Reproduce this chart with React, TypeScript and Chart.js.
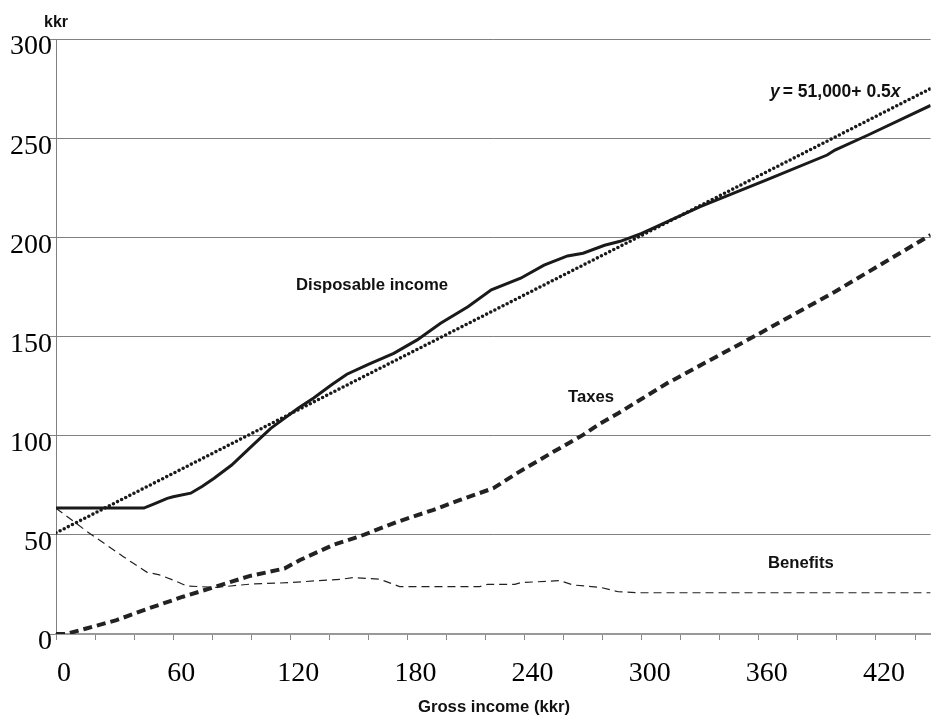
import React, { useEffect, useRef } from 'react';
import { Chart, registerables } from 'chart.js';

Chart.register(...registerables);

// Gross income (kkr) tick positions and labelled ticks
const xTickValues = [0, 20, 40, 60, 80, 100, 120, 140, 160, 180, 200, 220, 240, 260, 280, 300, 320, 340, 360, 380, 400, 420, 440];
const xLabelValues = [0, 60, 120, 180, 240, 300, 360, 420];
const yTickValues = [0, 50, 100, 150, 200, 250, 300];

// Disposable income
const dispX = [0, 45, 50, 57, 60, 69, 75, 81, 90, 100, 110, 124, 132, 141, 149, 160, 173, 185, 197, 211, 223, 238, 250, 262, 270, 281, 289, 300, 330, 364, 395, 399, 416, 448];
const dispY = [63.5, 63.5, 65.5, 68.4, 69.2, 71, 74.5, 78.5, 85.2, 94.5, 103.7, 113.8, 119, 125.5, 131, 136, 141.5, 148.3, 156.7, 165, 173.5, 179.4, 186, 190.6, 192, 196, 198, 202, 215.5, 229, 241.5, 244, 251.6, 266.5];

// Reference line y = 51,000 + 0.5x (end points)
const refX = [0, 448];
const refY = [51, 275];

// Taxes
const taxX = [0, 5, 16, 31, 46, 65, 79, 99, 117, 125, 142, 156, 175, 193, 207, 224, 236, 255, 270, 279, 288, 313, 359, 399, 448];
const taxY = [0, 0, 2.9, 7, 12.4, 18.8, 23, 29.2, 33, 37.3, 44.9, 49.4, 56.6, 62.5, 67.6, 73.5, 81, 92, 100.4, 106.3, 111.3, 126.4, 150.8, 172.6, 201.2];

// Benefits
const benX = [0, 16, 34.5, 39, 46.5, 53, 60, 67, 82, 100, 120, 134, 146, 152, 166, 176, 217, 221, 235, 238, 258, 265, 279, 288, 299, 448];
const benY = [63.4, 51.6, 39, 36, 31.2, 29.8, 27.2, 24.2, 23.5, 25.2, 25.9, 26.9, 27.6, 28.4, 27.6, 23.9, 23.9, 25, 25, 25.9, 26.9, 24.7, 23.5, 21.3, 20.8, 20.8];

const toPoints = (xs: number[], ys: number[]) => xs.map((x, i) => ({ x, y: ys[i] }));

const SANS = '"Liberation Sans", Arial, Helvetica, sans-serif';
const SERIF = '"Liberation Serif", "Times New Roman", serif';

export default function App() {
  const ref = useRef<HTMLCanvasElement>(null);

  useEffect(() => {
    const prev = document.body.style.margin;
    document.body.style.margin = '0';
    const canvas = ref.current!;

    const textPlugin = {
      id: 'textLabels',
      afterDatasetsDraw(chart: any) {
        const c = chart.ctx as CanvasRenderingContext2D;
        c.save();
        c.fillStyle = '#111';
        c.textBaseline = 'alphabetic';
        c.font = `bold 16px ${SANS}`;
        c.textAlign = 'center';
        c.fillText('kkr', 56, 27);
        c.font = `bold 16.7px ${SANS}`;
        c.fillText('Gross income (kkr)', 494, 712);
        c.textAlign = 'left';
        c.fillText('Disposable income', 296, 290);
        c.fillText('Taxes', 568, 402);
        c.fillText('Benefits', 768, 568);
        // formula
        let x = 770;
        const base = 97;
        c.font = `italic bold 17.5px ${SANS}`;
        c.fillText('y', x, base);
        x += c.measureText('y').width + 3;
        c.font = `bold 17.5px ${SANS}`;
        const mid = '= 51,000+ 0.5';
        c.fillText(mid, x, base);
        x += c.measureText(mid).width;
        c.font = `italic bold 17.5px ${SANS}`;
        c.fillText('x', x, base);
        c.restore();
      },
    };

    const chart = new Chart(canvas, {
      type: 'line',
      data: {
        datasets: [
          {
            label: 'Benefits',
            data: toPoints(benX, benY),
            borderColor: '#222',
            borderWidth: 1.2,
            borderDash: [8, 5],
            pointRadius: 0,
            tension: 0,
            fill: false,
          },
          {
            label: 'Taxes',
            data: toPoints(taxX, taxY),
            borderColor: '#222',
            borderWidth: 4,
            borderDash: [9, 5],
            pointRadius: 0,
            tension: 0,
            fill: false,
          },
          {
            label: 'y = 51,000 + 0.5x',
            data: toPoints(refX, refY),
            borderColor: '#1a1a1a',
            borderWidth: 3.6,
            borderDash: [0, 4.6],
            borderCapStyle: 'round',
            pointRadius: 0,
            tension: 0,
            fill: false,
          },
          {
            label: 'Disposable income',
            data: toPoints(dispX, dispY),
            borderColor: '#1a1a1a',
            borderWidth: 3,
            pointRadius: 0,
            tension: 0,
            fill: false,
          },
        ],
      },
      options: {
        animation: false,
        responsive: true,
        maintainAspectRatio: false,
        layout: { padding: { top: 39, left: 0, right: 0, bottom: 0 } },
        plugins: {
          legend: { display: false },
          tooltip: { enabled: false },
          title: { display: false },
        },
        scales: {
          x: {
            type: 'linear',
            min: 0,
            max: 448,
            afterBuildTicks: (s: any) => {
              s.ticks = xTickValues.map((v) => ({ value: v }));
            },
            afterFit: (s: any) => {
              s.height = 82;
            },
            ticks: {
              autoSkip: false,
              maxRotation: 0,
              minRotation: 0,
              color: '#000',
              padding: 17,
              labelOffset: 8,
              font: { family: SERIF, size: 28 },
              callback: (v: any) => (xLabelValues.includes(Number(v)) ? String(v) : ''),
            },
            grid: {
              drawOnChartArea: false,
              drawTicks: true,
              tickLength: 6,
              color: '#888',
              lineWidth: 1,
            },
            border: { display: true, color: '#999', width: 2 },
          },
          y: {
            type: 'linear',
            min: 0,
            max: 300,
            afterBuildTicks: (s: any) => {
              s.ticks = yTickValues.map((v) => ({ value: v }));
            },
            afterFit: (s: any) => {
              s.width = 56;
            },
            ticks: {
              color: '#000',
              padding: -3,
              labelOffset: 8,
              font: { family: SERIF, size: 28 },
              callback: (v: any) => String(v),
            },
            grid: {
              color: '#808080',
              lineWidth: 1,
              tickLength: 7,
              drawTicks: true,
            },
            border: { display: true, color: '#808080', width: 1 },
          },
        },
      },
      plugins: [textPlugin],
    } as any);

    return () => {
      chart.destroy();
      document.body.style.margin = prev;
    };
  }, []);

  return (
    <div style={{ position: 'absolute', left: 0, top: 0, width: 932, height: 716 }}>
      <canvas ref={ref} />
    </div>
  );
}
